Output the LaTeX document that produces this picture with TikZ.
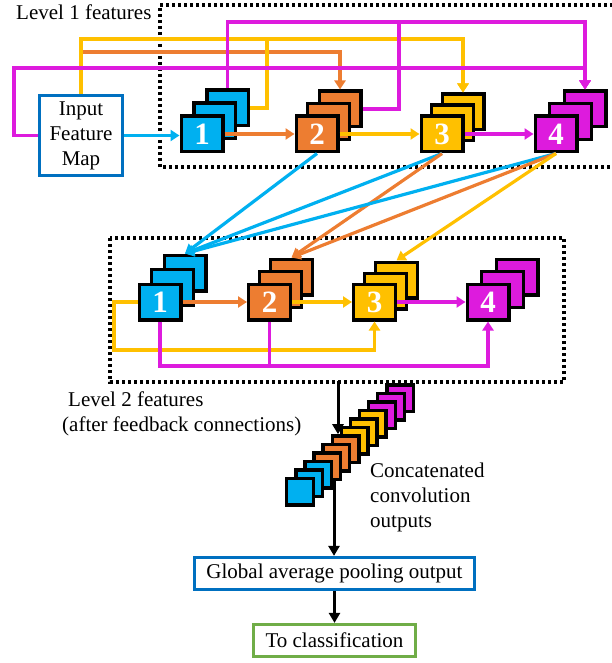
\documentclass[tikz,border=0pt]{standalone}
\usepackage{fontspec}
\setmainfont{Liberation Serif}
\usetikzlibrary{arrows.meta,calc}

\definecolor{fcyan}{HTML}{00B0F0}
\definecolor{forange}{HTML}{ED7D31}
\definecolor{fyellow}{HTML}{FFC000}
\definecolor{fmag}{HTML}{DD1BDD}
\definecolor{fblue}{HTML}{0070C0}
\definecolor{fgreen}{HTML}{70AD47}

% three stacked feature maps: name, centre x, centre y, step x, step y, colour, label
\newcommand{\fstack}[7]{%
  \node[sqr,fill=#6] (#1b) at ({#2+2*(#4)},{#3+2*(#5)}) {};
  \node[sqr,fill=#6] (#1m) at ({#2+#4},{#3+#5}) {};
  \node[sqr,fill=#6] (#1) at (#2,#3) {#7};}

\begin{document}
\begin{tikzpicture}[x=1pt,y=-1pt,
  sqr/.style={draw=black,line width=3.4pt,minimum width=41.6pt,minimum height=35.6pt,inner sep=0pt,
    font=\fontsize{31}{31}\selectfont\bfseries,text=white},
  csq/.style={draw=black,line width=3.4pt,minimum size=26.6pt,inner sep=0pt},
  link/.style={line width=3.2pt,-{Triangle[length=9pt,width=11pt]}},
  plain/.style={line width=3.2pt},
  dotbox/.style={line width=3.2pt,dash pattern=on 3pt off 3pt},
  txt/.style={font=\fontsize{21}{25}\selectfont,inner sep=0pt},
  blk/.style={line width=3pt,-{Triangle[length=10pt,width=11pt]}},
  tbox/.style={draw,line width=3.2pt,font=\fontsize{21}{25}\selectfont,inner sep=0pt}
]
\useasboundingbox (0,0) rectangle (611,663);

% feature level frames
\draw[dotbox] (625,5) -- (160,5) -- (160,167) -- (625,167);
\draw[dotbox] (110,238) rectangle (564,382);

% input
\node[tbox,draw=fblue,minimum width=83pt,minimum height=80pt,align=center] (inp) at (81,135.5)
  {Input\\Feature\\Map};

% level 1 feature maps
\fstack{a1}{202}{134}{12.8}{-13}{fcyan}{1}
\fstack{a2}{317}{134}{11.5}{-12.5}{forange}{2}
\fstack{a3}{442}{134}{10.5}{-11}{fyellow}{3}
\fstack{a4}{556}{134}{14.5}{-12.5}{fmag}{4}

% dense connections of level 1
\coordinate (jo) at (81,52);
\draw[link,forange] (jo) -| (a2b.north);
\draw[link,fyellow] (inp.north) |- (300,39) -| (a3b.north);
\draw[link,fyellow] (a1b.east) -| (267,39) -| (a3b.north);
\draw[link,fmag] (inp.west) -| (14,68) -| (a4b.north);
\draw[link,fmag] (a1b.north) |- (300,22) -| (a4b.north);
\draw[link,fmag] (a2b.east) -| (399,22) -| (a4b.north);

\draw[link,fcyan] (inp.east) -- (inp.east -| a1.west);
\draw[link,forange] (a1.east) -- (a2.west);
\draw[link,fyellow] (a2.east) -- (a3.west);
\draw[link,fmag] (a3.east) -- (a4.west);

% level 2 feature maps
\fstack{b1}{160}{302}{12.5}{-14.5}{fcyan}{1}
\fstack{b2}{269.5}{302}{11}{-12.5}{forange}{2}
\fstack{b3}{374.5}{302}{11}{-11}{fyellow}{3}
\fstack{b4}{488}{302}{14.5}{-12.5}{fmag}{4}

% feedback connections
\draw[link,fcyan] (a2.south) -- (b1b.north);
\draw[link,fcyan] (a3.south) -- (b1b.north);
\draw[link,forange] (a3.south) -- (b2b.north);
\draw[link,fcyan] (a4.south) -- (b1b.north);
\draw[link,forange] (a4.south) -- (b2b.north);
\draw[link,fyellow] (a4.south) -- (b3b.north);

% connections of level 2
\draw[link,forange] (b1.east) -- (b2.west);
\draw[link,fyellow] (b2.east) -- (b3.west);
\draw[link,fmag] (b3.east) -- (b4.west);
\draw[link,fyellow] (b1.west) -| (114,350) -| (b3.south);
\draw[plain,fmag] (b2.south) -- ++(0,46);
\draw[link,fmag] (b1.south) |- (300,366) -| (b4.south);

% labels
\node[txt,anchor=base west] (l1) at (16,20) {Level 1 features};
\node[txt,anchor=base west] (l2a) at (68,406) {Level 2 features};
\node[txt,anchor=base west] (l2b) at (62,431) {(after feedback connections)};
\node[txt,anchor=north west,align=left] (cc) at (370,463) {Concatenated\\convolution\\outputs};

% output head
\node[tbox,draw=fblue,minimum width=280pt,minimum height=32pt] (gap) at (334.5,573.5)
  {Global average pooling output};
\node[tbox,draw=fgreen,minimum width=162pt,minimum height=32pt] (cls) at (334.5,640.5)
  {To classification};

\coordinate (cin) at (334,470);
\draw[blk] (cin) -- (cin |- gap.north);
\draw[blk] (gap.south) -- (cls.north);

% concatenated convolution outputs
\foreach \i/\c in {11/fmag,10/fmag,9/fmag,8/fyellow,7/fyellow,6/fyellow,
                   5/forange,4/forange,3/forange,2/fcyan,1/fcyan,0/fcyan}
  \node[csq,fill=\c] (k\i) at ({300+9.1*\i},{491.7-8.5*\i}) {};

\coordinate (cout) at (338,381);
\draw[blk] (cout) -- (cout |- k5.north);
\end{tikzpicture}
\end{document}
